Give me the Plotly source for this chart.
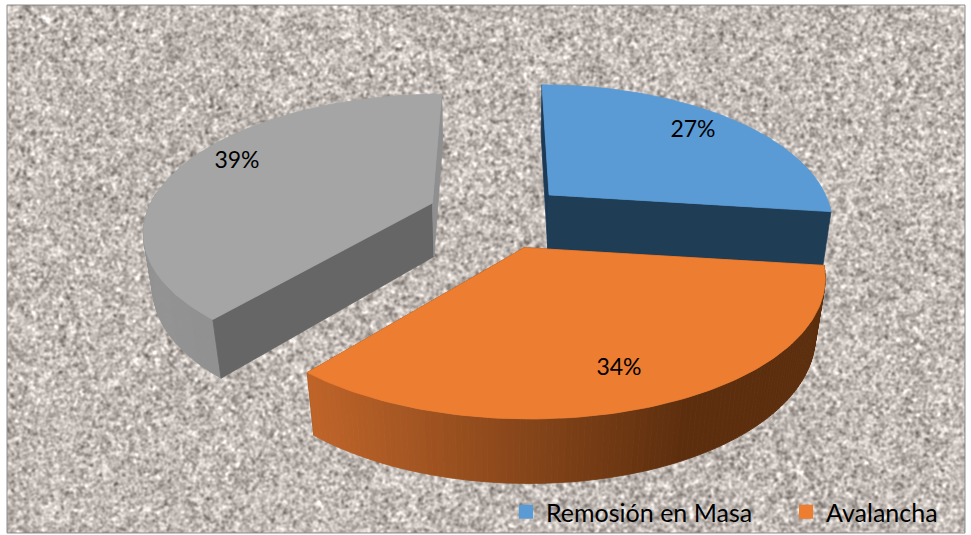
import base64, struct, zlib
import numpy as np
import plotly.graph_objects as go

# ---- data ----
categories = ["Remosión en Masa", "Avalancha", "Otros"]
shares = [27, 34, 39]
show_in_legend = [True, True, False]

# ---- style ----
TOP = ["#5b9bd5", "#ed7d31", "#a5a5a5"]
START_WALL = ["#1c3a55", "#7d4015", "#666666"]
END_WALL = ["#203d56", "#7d4015", "#8f8f8f"]
WALL_LEFT = ["#2f5f8a", "#c0652a", "#949494"]
WALL_RIGHT = ["#203d56", "#5c2e0e", "#878787"]

CX, CY = 500.0, 215.0      # pixel centre of the projected pie
A, B, DEPTH = 287.0, 135.0, 53.0
PERSP = 0.19
PERSP_Z = 0.025
EXPLODE = 0.22
NUDGE = [(3, -1), (0, 4), (-9, -2)]
SCALE = [(0.99, 1.02), (0.985, 0.94), (0.995, 0.985)]
DEPTH_K = [1.08, 1.15, 1.06]
RIM_LIMIT = [-1.0, 0.08, 0.08]
LABEL_XY = [(693, 131), (619, 369), (237, 162)]
LEGEND_X = [506, 786]


def rgb(h):
    return np.array([int(h[i:i + 2], 16) for i in (1, 3, 5)], float)


def mix(a, b, t):
    c = rgb(a) * (1 - t) + rgb(b) * t
    return "rgb(%d,%d,%d)" % tuple(c)


def project(X, Y, Z=0.0):
    w = 1 + PERSP * Y + PERSP_Z * Z
    return CX + A * X / w, CY - B * Y / w + DEPTH * Z / w


def texture(w, h):
    rng = np.random.default_rng(7)
    n = rng.normal(size=(h, w))
    fy = np.fft.fftfreq(h)[:, None]
    fx = np.fft.fftfreq(w)[None, :]
    s = 1.2
    g = np.fft.ifft2(np.fft.fft2(n) * np.exp(-2 * (np.pi * s) ** 2 * (fx ** 2 + fy ** 2))).real
    g /= g.std()
    n2 = rng.normal(size=(h, w))
    lo = np.fft.ifft2(np.fft.fft2(n2) * np.exp(-2 * (np.pi * 14) ** 2 * (fx ** 2 + fy ** 2))).real
    lo /= lo.std()
    v = g * 22 + lo * 1.5
    img = np.stack([192 + v, 185 + v, 180 + v], axis=2).clip(0, 255).astype(np.uint8)
    raw = b"".join(b"\x00" + img[i].tobytes() for i in range(h))

    def chunk(t, d):
        return struct.pack(">I", len(d)) + t + d + struct.pack(">I", zlib.crc32(t + d))

    png = (b"\x89PNG\r\n\x1a\n" + chunk(b"IHDR", struct.pack(">IIBBBBB", w, h, 8, 2, 0, 0, 0))
           + chunk(b"IDAT", zlib.compress(raw, 6)) + chunk(b"IEND", b""))
    return "data:image/png;base64," + base64.b64encode(png).decode()


def poly(xs, ys, color):
    return go.Scatter(x=list(xs), y=list(ys), mode="lines", fill="toself", fillcolor=color,
                      line=dict(color=color, width=0.8), hoverinfo="skip", showlegend=False)


fig = go.Figure()
total = float(sum(shares))
angles = np.cumsum([0] + shares) / total * 2 * np.pi
slices = []
for i, share in enumerate(shares):
    t0, t1 = angles[i], angles[i + 1]
    mid = (t0 + t1) / 2
    ex, ey = EXPLODE * np.sin(mid), EXPLODE * np.cos(mid)
    th = np.linspace(t0, t1, 120)
    X, Y = ex + np.sin(th), ey + np.cos(th)
    slices.append((i, th, X, Y, ex, ey))

for i, th, X, Y, ex, ey in [slices[0], slices[2], slices[1]]:
    dx, dy = NUDGE[i]
    sx, sy = SCALE[i]
    zk = DEPTH_K[i]
    ax, ay = project(ex, ey, 0)

    def place(px, py):
        return ax + (px - ax) * sx + dx, ay + (py - ay) * sy + dy

    tx, ty = place(*project(X, Y, 0))
    bx, by = place(*project(X, Y, zk))
    ax2, ay2 = place(*project(ex, ey, zk))
    ax1, ay1 = place(ax, ay)

    cuts = [poly([ax1, tx[0], bx[0], ax2, ax1], [ay1, ty[0], by[0], ay2, ay1], START_WALL[i]),
            poly([ax1, tx[-1], bx[-1], ax2, ax1], [ay1, ty[-1], by[-1], ay2, ay1], END_WALL[i])]
    lo, hi = tx.min(), tx.max()
    wall = []
    for k in range(0, len(th) - 1):
        if np.cos(th[k]) > RIM_LIMIT[i] and np.cos(th[k + 1]) > RIM_LIMIT[i]:
            continue   # back of the rim: hidden by the top face
        t = (0.5 * (tx[k] + tx[k + 1]) - lo) / (hi - lo)
        col = mix(WALL_LEFT[i], WALL_RIGHT[i], min(1.0, t * (1.35 if i == 1 else 1.0)))
        wall.append(poly([tx[k], tx[k + 1], bx[k + 1], bx[k], tx[k]],
                         [ty[k], ty[k + 1], by[k + 1], by[k], ty[k]], col))
    # the front slice hides its own cut faces behind its rim
    for tr in (cuts + wall if i == 1 else wall + cuts):
        fig.add_trace(tr)
    fig.add_trace(poly(np.r_[ax1, tx, ax1], np.r_[ay1, ty, ay1], TOP[i]))

# percentage labels
fig.add_trace(go.Scatter(
    x=[p[0] for p in LABEL_XY], y=[p[1] for p in LABEL_XY], mode="text",
    text=["%d%%" % round(s / total * 100) for s in shares],
    textfont=dict(family="Lato, sans-serif", size=23, color="#000000"),
    textposition="middle center", hoverinfo="skip", showlegend=False))

# legend entries: one small legend each, so they can sit where the reference has them
legend_layout = {}
slot = 0
for name, col, show in zip(categories, TOP, show_in_legend):
    if show:
        key = "legend" if slot == 0 else "legend%d" % (slot + 1)
        fig.add_trace(go.Scatter(x=[None], y=[None], mode="markers", name=name, legend=key,
                                 showlegend=True,
                                 marker=dict(symbol="square", size=14, color=col)))
        legend_layout[key] = dict(xanchor="left", yanchor="middle", x=LEGEND_X[slot] / 971, y=1 - 512 / 535,
                                  bgcolor="rgba(0,0,0,0)", itemwidth=30,
                                  font=dict(family="Lato, sans-serif", size=25, color="#000000"))
        slot += 1

fig.update_layout(
    width=971, height=535, margin=dict(l=0, r=0, t=0, b=0, autoexpand=False),
    paper_bgcolor="#ffffff", plot_bgcolor="rgba(0,0,0,0)",
    xaxis=dict(range=[0, 971], visible=False, fixedrange=True),
    yaxis=dict(range=[535, 0], visible=False, fixedrange=True),
    images=[dict(source=texture(958, 528), xref="x", yref="y", x=7, y=5, sizex=958, sizey=528,
                 sizing="stretch", layer="below", xanchor="left", yanchor="top")],
    shapes=[dict(type="rect", xref="x", yref="y", x0=7, y0=5, x1=965, y1=533,
                 line=dict(color="#8c8c8c", width=1), layer="above")],
    **legend_layout,
)

fig.write_html("out.html", config={"displayModeBar": False},
               post_script="document.body.style.margin='0';document.documentElement.style.overflow='hidden';")
